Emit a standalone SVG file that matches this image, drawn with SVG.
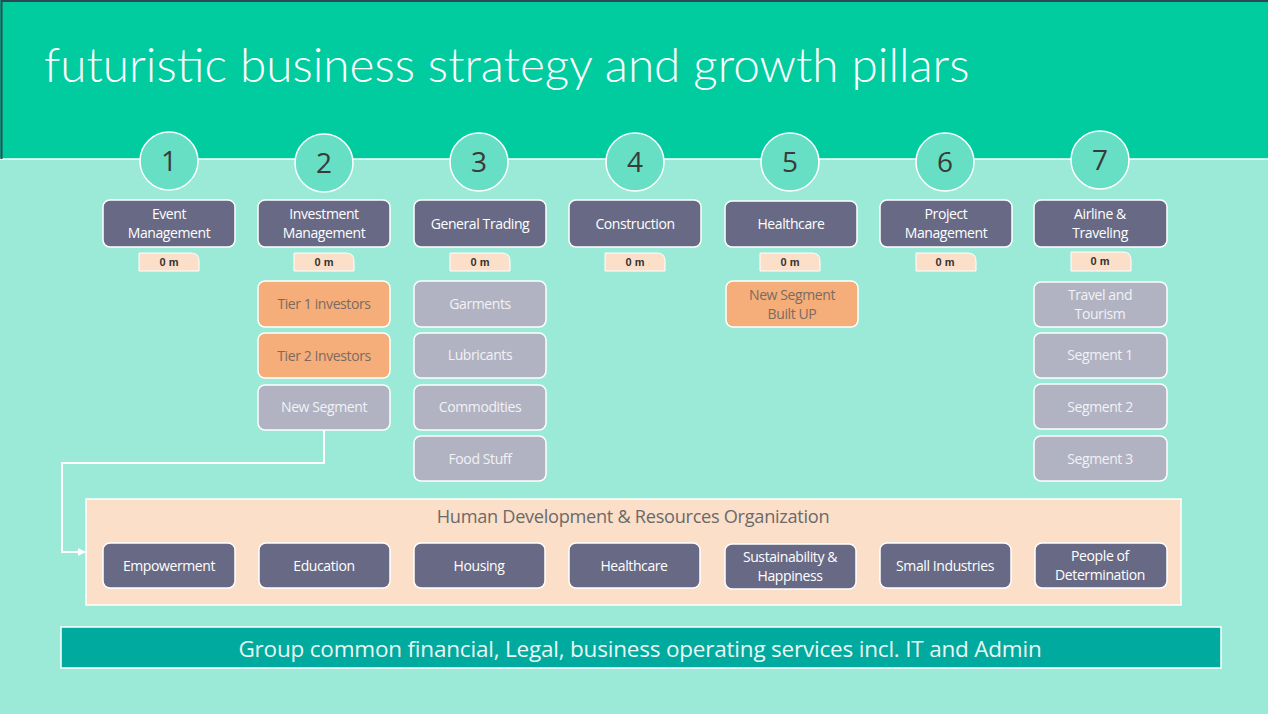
<svg xmlns="http://www.w3.org/2000/svg" width="1268" height="714" viewBox="0 0 1268 714">
<style>
.num{font-family:"Open Sans","DejaVu Sans",sans-serif;font-size:28px;fill:#3a3a3a;text-anchor:middle}
.circ{fill:#66DFC4;stroke:#fff;stroke-width:1.5}
.hdr{fill:#686A85;stroke:#fff;stroke-width:1.5}
.ht{font-family:"Open Sans","DejaVu Sans",sans-serif;font-size:14px;fill:#fff;text-anchor:middle;letter-spacing:-0.4px}
.tag{fill:#FCDFC8;stroke:#fff;stroke-width:1}
.tt{font-family:"Liberation Sans",Arial,sans-serif;font-size:11px;font-weight:bold;fill:#333;text-anchor:middle}
.gry{fill:#B1B3C2;stroke:#fff;stroke-width:1.5}
.org{fill:#F5AE79;stroke:#fff;stroke-width:1.5}
.gt{font-family:"Open Sans","DejaVu Sans",sans-serif;font-size:14px;fill:#F2F2F6;text-anchor:middle;letter-spacing:-0.4px}
.ot{font-family:"Open Sans","DejaVu Sans",sans-serif;font-size:14px;fill:#7A6B62;text-anchor:middle;letter-spacing:-0.4px}
</style>
<defs>
<marker id="arr" markerWidth="8" markerHeight="8" refX="7" refY="4" orient="auto" markerUnits="userSpaceOnUse">
<path d="M0,0 L8,4 L0,8 z" fill="#fff"/>
</marker>
</defs>
<rect x="0" y="0" width="1268" height="714" fill="#9AEAD7"/>
<rect x="0" y="0" width="1268" height="159" fill="#00CC9F"/>
<line x1="0" y1="159" x2="1268" y2="159" stroke="#fff" stroke-width="1.5"/>
<path d="M1.5,159 V1 H1268" fill="none" stroke="#2E4655" stroke-width="2"/>
<text x="44" y="82" font-family="Lato,sans-serif" font-weight="300" font-size="47.7" fill="#fff">futuristic business strategy and growth pillars</text>

<g id="connectors">
<path d="M324,430 V463 H62 V552 H85" fill="none" stroke="#fff" stroke-width="2" marker-end="url(#arr)"/>
</g>

<g id="col1">
<circle class="circ" cx="169" cy="161" r="29"/><text class="num" x="169" y="171">1</text>
<rect class="hdr" x="103" y="200" width="132" height="47" rx="7"/>
<text class="ht" x="169" y="219">Event</text><text class="ht" x="169" y="238">Management</text>
<path class="tag" d="M139,253 H191 Q199,253 199,261 V271 H139 Z"/><text class="tt" x="169" y="266">0 m</text>
</g>
<g id="col2">
<circle class="circ" cx="324" cy="163" r="29"/><text class="num" x="324" y="173">2</text>
<rect class="hdr" x="258" y="200" width="132" height="47" rx="7"/>
<text class="ht" x="324" y="219">Investment</text><text class="ht" x="324" y="238">Management</text>
<path class="tag" d="M294,253 H346 Q354,253 354,261 V271 H294 Z"/><text class="tt" x="324" y="266">0 m</text>
</g>
<g id="tier1"><rect class="org" x="258" y="281" width="132" height="46" rx="7"/><text class="ot" x="324" y="309">Tier 1 investors</text></g>
<g id="tier2"><rect class="org" x="258" y="333" width="132" height="45" rx="7"/><text class="ot" x="324" y="361">Tier 2 Investors</text></g>
<g id="newseg"><rect class="gry" x="258" y="385" width="132" height="45" rx="7"/><text class="gt" x="324" y="412">New Segment</text></g>

<g id="col3">
<circle class="circ" cx="479" cy="162" r="29"/><text class="num" x="479" y="172">3</text>
<rect class="hdr" x="414" y="200" width="132" height="47" rx="7"/>
<text class="ht" x="480" y="229">General Trading</text>
<path class="tag" d="M450,253 H502 Q510,253 510,261 V271 H450 Z"/><text class="tt" x="480" y="266">0 m</text>
</g>
<g id="garments"><rect class="gry" x="414" y="281" width="132" height="46" rx="7"/><text class="gt" x="480" y="309">Garments</text></g>
<g id="lubricants"><rect class="gry" x="414" y="333" width="132" height="45" rx="7"/><text class="gt" x="480" y="360">Lubricants</text></g>
<g id="commodities"><rect class="gry" x="414" y="385" width="132" height="45" rx="7"/><text class="gt" x="480" y="412">Commodities</text></g>
<g id="foodstuff"><rect class="gry" x="414" y="436" width="132" height="45" rx="7"/><text class="gt" x="480" y="464">Food Stuff</text></g>

<g id="col4">
<circle class="circ" cx="635" cy="162" r="29"/><text class="num" x="635" y="172">4</text>
<rect class="hdr" x="569" y="200" width="132" height="47" rx="7"/>
<text class="ht" x="635" y="229">Construction</text>
<path class="tag" d="M605,253 H657 Q665,253 665,261 V271 H605 Z"/><text class="tt" x="635" y="266">0 m</text>
</g>

<g id="col5">
<circle class="circ" cx="790" cy="162" r="29"/><text class="num" x="790" y="172">5</text>
<rect class="hdr" x="725" y="201" width="132" height="46" rx="7"/>
<text class="ht" x="791" y="229">Healthcare</text>
<path class="tag" d="M760,253 H812 Q820,253 820,261 V271 H760 Z"/><text class="tt" x="790" y="266">0 m</text>
</g>
<g id="newsegbuilt"><rect class="org" x="726" y="281" width="132" height="46" rx="7"/><text class="ot" x="792" y="300">New Segment</text><text class="ot" x="792" y="319">Built UP</text></g>

<g id="col6">
<circle class="circ" cx="945" cy="162" r="29"/><text class="num" x="945" y="172">6</text>
<rect class="hdr" x="880" y="200" width="132" height="47" rx="7"/>
<text class="ht" x="946" y="219">Project</text><text class="ht" x="946" y="238">Management</text>
<path class="tag" d="M916,253 H968 Q976,253 976,261 V271 H916 Z"/><text class="tt" x="945" y="266">0 m</text>
</g>

<g id="col7">
<circle class="circ" cx="1100" cy="160" r="29"/><text class="num" x="1100" y="170">7</text>
<rect class="hdr" x="1034" y="200" width="133" height="47" rx="7"/>
<text class="ht" x="1100" y="219">Airline &amp;</text><text class="ht" x="1100" y="238">Traveling</text>
<path class="tag" d="M1071,252 H1123 Q1131,252 1131,260 V271 H1071 Z"/><text class="tt" x="1100" y="265">0 m</text>
</g>
<g id="travel"><rect class="gry" x="1034" y="282" width="133" height="45" rx="7"/><text class="gt" x="1100" y="300">Travel and</text><text class="gt" x="1100" y="319">Tourism</text></g>
<g id="seg1"><rect class="gry" x="1034" y="333" width="133" height="45" rx="7"/><text class="gt" x="1100" y="360">Segment 1</text></g>
<g id="seg2"><rect class="gry" x="1034" y="384" width="133" height="45" rx="7"/><text class="gt" x="1100" y="412">Segment 2</text></g>
<g id="seg3"><rect class="gry" x="1034" y="436" width="133" height="45" rx="7"/><text class="gt" x="1100" y="464">Segment 3</text></g>

<g id="hdro">
<rect x="86" y="499" width="1095" height="106" fill="#FBDFC8" stroke="#fff" stroke-width="1.5"/>
<text x="633" y="523" font-family="'Open Sans','DejaVu Sans',sans-serif" font-size="18.2" fill="#6A6A6A" text-anchor="middle" letter-spacing="-0.3">Human Development &amp; Resources Organization</text>
</g>
<g id="empowerment"><rect class="hdr" x="103" y="543" width="132" height="45" rx="7"/><text class="ht" x="169" y="571">Empowerment</text></g>
<g id="education"><rect class="hdr" x="259" y="543" width="131" height="45" rx="7"/><text class="ht" x="324" y="571">Education</text></g>
<g id="housing"><rect class="hdr" x="414" y="543" width="131" height="45" rx="7"/><text class="ht" x="479" y="571">Housing</text></g>
<g id="healthcare2"><rect class="hdr" x="569" y="543" width="131" height="45" rx="7"/><text class="ht" x="634" y="571">Healthcare</text></g>
<g id="sustain"><rect class="hdr" x="725" y="544" width="131" height="45" rx="7"/><text class="ht" x="790" y="562">Sustainability &amp;</text><text class="ht" x="790" y="581">Happiness</text></g>
<g id="smallind"><rect class="hdr" x="880" y="543" width="131" height="45" rx="7"/><text class="ht" x="945" y="571">Small Industries</text></g>
<g id="people"><rect class="hdr" x="1035" y="543" width="132" height="45" rx="7"/><text class="ht" x="1100" y="561">People of</text><text class="ht" x="1100" y="580">Determination</text></g>

<g id="footer">
<rect x="61" y="627" width="1160" height="41" fill="#00AA9E" stroke="#fff" stroke-width="1.5"/>
<text x="640" y="657" font-family="'Open Sans','DejaVu Sans',sans-serif" font-size="22.5" fill="#EAF7F3" text-anchor="middle" letter-spacing="-0.2">Group common financial, Legal, business operating services incl. IT and Admin</text>
</g>
</svg>
